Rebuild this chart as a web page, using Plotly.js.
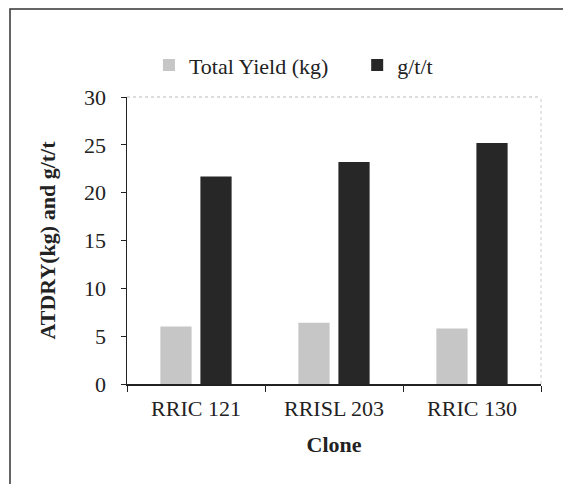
<!DOCTYPE html>
<html>
<head>
<meta charset="utf-8">
<script src="https://cdn.plot.ly/plotly-3.0.1.min.js"></script>
<style>html,body{margin:0;padding:0;background:#fff;}#chart{width:563px;height:484px;}</style>
</head>
<body>
<div id="chart"></div>
<script>
var clones = ["RRIC 121", "RRISL 203", "RRIC 130"];
var totalYield = [6.0, 6.4, 5.8];
var gtt = [21.7, 23.2, 25.2];
var yTicks = [0, 5, 10, 15, 20, 25, 30];

var font = "Liberation Serif, Times New Roman, serif";
var data = [
  {type: "bar", name: "Total Yield (kg)", x: clones, y: totalYield, legend: "legend",
   marker: {color: "#c6c6c6", line: {width: 0}}},
  {type: "bar", name: "g/t/t", x: clones, y: gtt, legend: "legend2",
   marker: {color: "#272727", line: {width: 0}}}
];
var legendBase = {orientation: "h", yanchor: "middle", y: 1.111, xanchor: "left",
                  font: {family: font, size: 22, color: "#222"}, itemwidth: 30,
                  bgcolor: "rgba(0,0,0,0)"};
var layout = {
  width: 563, height: 484,
  margin: {l: 127, r: 22, t: 97, b: 100},
  paper_bgcolor: "#fff", plot_bgcolor: "#fff",
  font: {family: font, size: 22, color: "#222"},
  barmode: "group", bargap: 0.42, bargroupgap: 0.22,
  showlegend: true,
  legend: Object.assign({}, legendBase, {x: 0.053}),
  legend2: Object.assign({}, legendBase, {x: 0.556}),
  xaxis: {type: "category", showline: true, linecolor: "#222", linewidth: 1.5,
          ticks: "outside", tickson: "boundaries", ticklen: 6, tickcolor: "#222",
          ticklabelstandoff: 4,
          showgrid: false, zeroline: false,
          title: {text: "<b>Clone</b>", font: {family: font, size: 22, color: "#222"}, standoff: 16}},
  yaxis: {range: [0, 30], tickvals: yTicks, ticktext: yTicks.map(String),
          showline: true, linecolor: "#222", linewidth: 1.5,
          ticks: "outside", ticklen: 5, tickcolor: "#222", showgrid: false, zeroline: false,
          ticklabelstandoff: 10,
          title: {text: "<b>ATDRY(kg) and g/t/t</b>", font: {family: font, size: 22, color: "#222"}, standoff: 22}},
  shapes: [
    {type: "line", xref: "paper", yref: "paper", x0: 0, x1: 1, y0: 1, y1: 1,
     line: {color: "#bbb", width: 1, dash: "dot"}},
    {type: "line", xref: "paper", yref: "paper", x0: 1, x1: 1, y0: 0, y1: 1,
     line: {color: "#ccc", width: 1, dash: "dot"}},
    {type: "rect", xref: "paper", yref: "paper", x0: -0.2826, x1: 1.2, y0: 1.3066, y1: -0.5,
     line: {color: "#333", width: 1.5}}
  ]
};
Plotly.newPlot("chart", data, layout, {displayModeBar: false, staticPlot: true});
</script>
</body>
</html>
